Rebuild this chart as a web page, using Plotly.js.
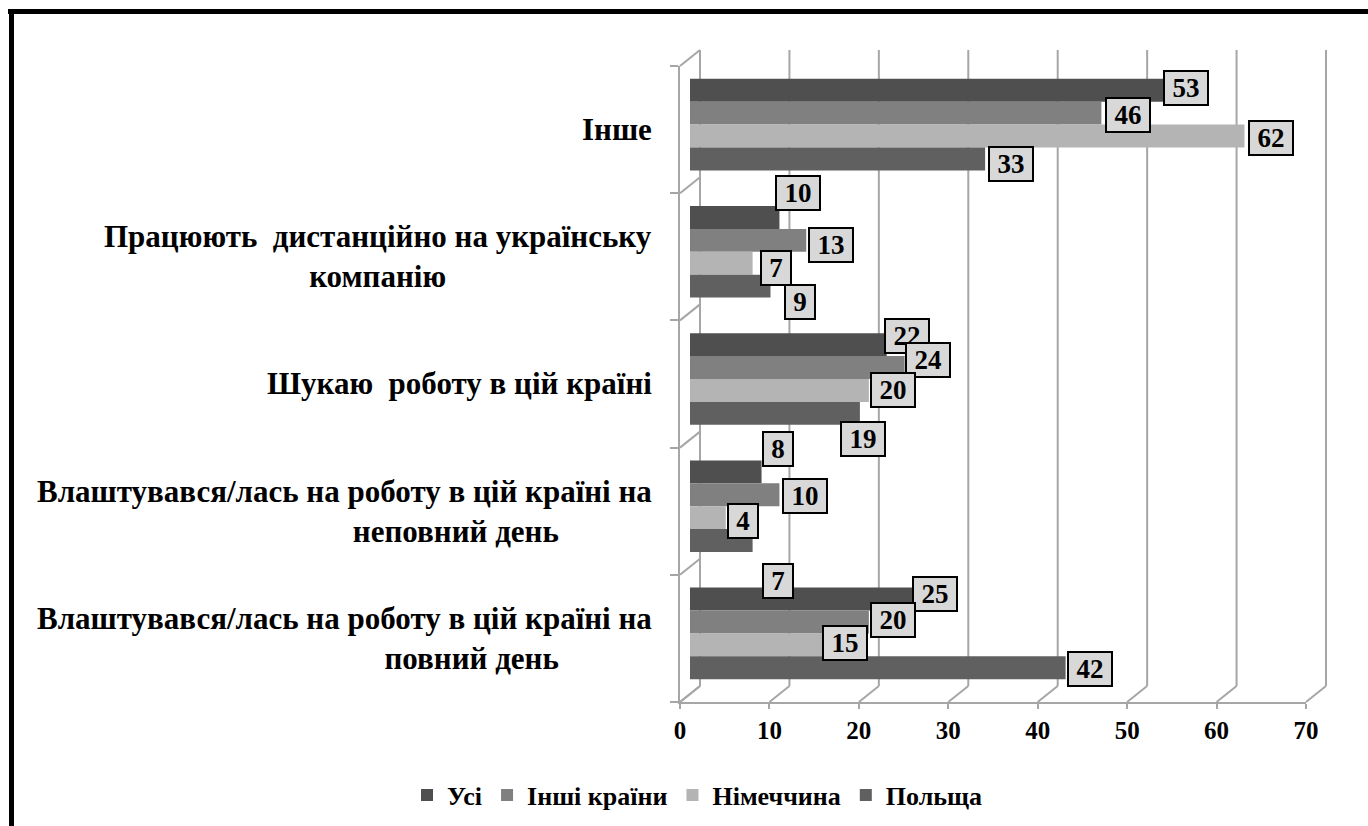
<!DOCTYPE html>
<html>
<head>
<meta charset="utf-8">
<script src="https://cdn.plot.ly/plotly-3.0.1.min.js"></script>
</head>
<body style="margin:0">
<div id="chart" style="width:1368px;height:826px"></div>
<script>
// ---------- data ----------
const categories = [
  'Інше',
  'Працюють дистанційно на українську компанію',
  'Шукаю роботу в цій країні',
  'Влаштувався/лась на роботу в цій країні на неповний день',
  'Влаштувався/лась на роботу в цій країні на повний день'
];
const categoryLabels = [
  'Інше',
  'Працюють  дистанційно на українську<br>компанію',
  'Шукаю  роботу в цій країні',
  'Влаштувався/лась на роботу в цій країні на<br>неповний день' + '&nbsp;'.repeat(12),
  'Влаштувався/лась на роботу в цій країні на<br>повний день' + '&nbsp;'.repeat(12)
];
const seriesNames = ['Усі', 'Інші країни', 'Німеччина', 'Польща'];
const usi         = [53, 10, 22, 8, 25];
const inshiKrainy = [46, 13, 24, 10, 20];
const nimechchyna = [62, 7, 20, 4, 15];
const polshcha    = [33, 9, 19, 7, 42];
const xTicks = [0, 10, 20, 30, 40, 50, 60, 70];

// ---------- style ----------
const seriesValues = [usi, inshiKrainy, nimechchyna, polshcha];
const colors = ['#4f4f4f', '#808080', '#b4b4b4', '#606060'];
const labelAlign = ['right', 'center', 'right', 'right', 'right'];
// data-label nudges in pixels [series][category] (as placed in the original)
const labelDx = [[-1, -4, -3, 0, -2], [4, 2, 0, 3, 1], [4, 7, 1, 1, -2], [3, 14, -20, 9, 1]];
const labelDy = [[-2, -24, -9, -23, -5], [2, 5, -8, 1, -2], [2, 5, 0, 3, -2], [5, 16, 26, 40, 1]];

const W = 1368, H = 826;
const px = x => x / W;
const py = y => 1 - y / H;
const FONT = 'Liberation Serif';
const bargap = 0.28;
const GRID = '#a6a6a6';

// front frame / back wall pixel geometry
const frontL = 680, frontR = 1306, frontTop = 66, frontBot = 702;
const depthX = 20, depthY = 16;
const unitPx = (frontR - frontL) / 70;

const traces = seriesNames.map((name, s) => ({
  type: 'bar',
  orientation: 'h',
  name: name,
  x: seriesValues[s],
  y: categories,
  xaxis: 'x',
  yaxis: 'y',
  marker: { color: colors[s], line: { width: 0 } },
  hoverinfo: 'skip'
}));

const annotations = [];
const groupW = 1 - bargap;
const barW = groupW / seriesNames.length;
seriesValues.forEach((vals, s) => {
  const off = -groupW / 2 + barW * (s + 0.5);
  vals.forEach((v, i) => {
    const txt = String(v);
    annotations.push({
      xref: 'x', yref: 'y', x: v, y: i + off,
      text: txt, showarrow: false,
      xanchor: 'left', yanchor: 'middle',
      xshift: labelDx[s][i], yshift: -labelDy[s][i],
      font: { family: FONT, size: 27, color: '#000', weight: 'bold' },
      bgcolor: '#d8d8d8', bordercolor: '#000', borderwidth: 2, borderpad: 3,
      width: txt.length * 14 + 8, height: 26
    });
  });
});
categoryLabels.forEach((t, i) => {
  annotations.push({
    xref: 'paper', yref: 'y2', x: px(654), y: i,
    text: t, showarrow: false, xanchor: 'right', yanchor: 'middle',
    align: labelAlign[i],
    font: { family: FONT, size: 31, color: '#000', weight: 'bold' }
  });
});

const shapes = [];
shapes.push({ type: 'line', xref: 'paper', yref: 'paper', x0: px(8), x1: 1, y0: py(11.5), y1: py(11.5), line: { color: '#000', width: 5 } });
shapes.push({ type: 'line', xref: 'paper', yref: 'paper', x0: px(11.5), x1: px(11.5), y0: py(9), y1: 0, line: { color: '#000', width: 5 } });
for (let b = 0; b <= categories.length; b++) {
  const yb = frontTop + b * (frontBot - frontTop) / categories.length;
  shapes.push({ type: 'line', layer: 'below', xref: 'paper', yref: 'paper',
    x0: px(frontL), y0: py(yb), x1: px(frontL + depthX), y1: py(yb - depthY),
    line: { color: GRID, width: 2 } });
}
xTicks.forEach(v => {
  const xf = frontL + v * unitPx;
  shapes.push({ type: 'line', layer: 'below', xref: 'paper', yref: 'paper',
    x0: px(xf), y0: py(frontBot), x1: px(xf + depthX), y1: py(frontBot - depthY),
    line: { color: GRID, width: 2 } });
  shapes.push({ type: 'line', layer: 'below', xref: 'paper', yref: 'paper',
    x0: px(xf + depthX), y0: py(frontBot - depthY), x1: px(xf + depthX), y1: py(frontTop - depthY),
    line: { color: GRID, width: 2 } });
});

const layout = {
  width: W, height: H,
  margin: { l: 0, r: 0, t: 0, b: 0 },
  paper_bgcolor: '#fff',
  plot_bgcolor: 'rgba(0,0,0,0)',
  barmode: 'group',
  bargap: bargap,
  bargroupgap: 0,
  showlegend: true,
  legend: {
    orientation: 'h', x: px(697), xanchor: 'center', y: py(795), yanchor: 'middle',
    font: { family: FONT, size: 26, color: '#000', weight: 'bold' },
    bgcolor: 'rgba(0,0,0,0)', itemwidth: 30, tracegroupgap: 0
  },
  xaxis: {
    domain: [px(frontL + depthX / 2), px(frontR + depthX / 2)], range: [0, 70],
    showgrid: false, showticklabels: false, zeroline: false, showline: false, ticks: '', anchor: 'y'
  },
  yaxis: {
    domain: [py(697), py(61)], type: 'category', categoryarray: categories, categoryorder: 'array',
    range: [4.5, -0.5], showgrid: false, showticklabels: false, zeroline: false, showline: false, ticks: '', anchor: 'x'
  },
  xaxis2: {
    domain: [px(frontL), px(frontR)], range: [0, 70], tickvals: xTicks,
    showline: true, linecolor: GRID, linewidth: 2,
    ticks: 'outside', ticklen: 5, tickwidth: 2, tickcolor: GRID,
    showgrid: false, zeroline: false, anchor: 'y2',
    tickfont: { family: FONT, size: 25, color: '#000', weight: 'bold' },
    ticklabelstandoff: 0
  },
  yaxis2: {
    domain: [py(frontBot), py(frontTop)], range: [4.5, -0.5],
    tick0: -0.5, dtick: 1,
    showline: true, linecolor: GRID, linewidth: 2,
    ticks: 'outside', ticklen: 8, tickwidth: 2, tickcolor: GRID,
    showgrid: false, zeroline: false, showticklabels: false, anchor: 'x2'
  },
  annotations: annotations,
  shapes: shapes
};

Plotly.newPlot('chart', traces, layout, { staticPlot: true, displayModeBar: false });
</script>
</body>
</html>
